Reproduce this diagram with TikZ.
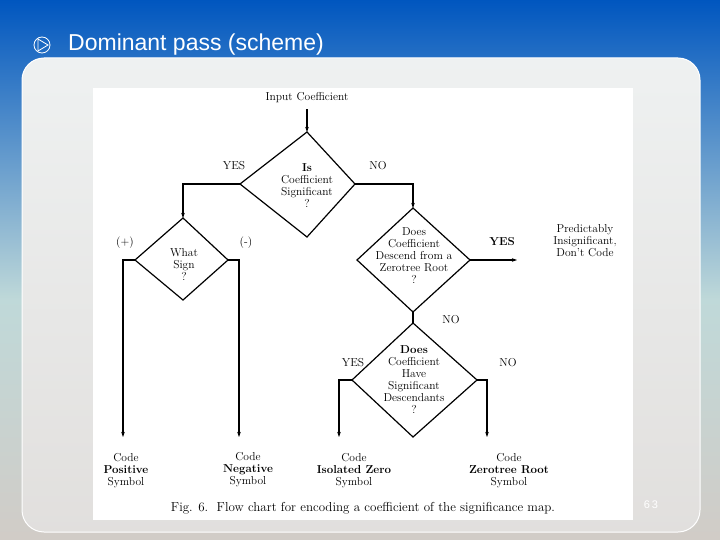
\documentclass[tikz,border=0pt]{standalone}
\usepackage{fontspec}
\newfontfamily\sansf{Liberation Sans}
\usetikzlibrary{arrows.meta}
\begin{document}
\begin{tikzpicture}[x=1pt,y=-1pt,
  ln/.style={line width=1.2pt,black},
  arr/.style={ln,-{Stealth[length=5pt,width=3.5pt]}},
  dia/.style={line width=1.2pt,black,fill=white},
  txt/.style={font=\fontsize{11.5}{12}\selectfont,align=center,inner sep=0pt},
  lab/.style={font=\fontsize{11.5}{12}\selectfont,inner sep=0pt}]
\useasboundingbox (0,0) rectangle (720,540);
% background
\shade[top color=blue!55!cyan!75!black,bottom color=cyan!25!gray!40] (0,0) rectangle (720,300);
\shade[top color=cyan!25!gray!40,bottom color=brown!20!gray!40] (0,300) rectangle (720,540);
\shade[rounded corners=22pt,top color=cyan!8!gray!12,bottom color=brown!12!gray!25,draw=white,line width=1pt] (22,58) rectangle (700,532);
\fill[white] (93,88) rectangle (633,520);
% title
\node[draw=white,circle,line width=0.8pt,minimum size=16pt,inner sep=0pt] (bul) at (42,45) {};
\draw[white,line width=0.8pt] (38,39) -- (48,45) -- (38,51) -- cycle;
\node[anchor=west,text=white,font=\sansf\fontsize{23}{26}\selectfont,inner sep=0pt] (title) at (68,45) {Dominant pass (scheme)};
\node[text=white,font=\sansf\fontsize{11}{12}\selectfont] (pg) at (651,505) {6\,3};
% diamonds
\coordinate (d1t) at (307,132); \coordinate (d1b) at (307,237); \coordinate (d1l) at (240,184); \coordinate (d1r) at (355,184);
\coordinate (d2t) at (183,218); \coordinate (d2b) at (183,300); \coordinate (d2l) at (135,260); \coordinate (d2r) at (228,260);
\coordinate (d3t) at (413,208); \coordinate (d3b) at (413,312); \coordinate (d3l) at (357,260); \coordinate (d3r) at (470,260);
\coordinate (d4t) at (413,323); \coordinate (d4b) at (413,437); \coordinate (d4l) at (352,380); \coordinate (d4r) at (477,380);
\draw[dia] (d1t)--(d1r)--(d1b)--(d1l)--cycle;
\draw[dia] (d2t)--(d2r)--(d2b)--(d2l)--cycle;
\draw[dia] (d3t)--(d3r)--(d3b)--(d3l)--cycle;
\draw[dia] (d4t)--(d4r)--(d4b)--(d4l)--cycle;
\node[txt] (q1) at (307,186) {\textbf{Is}\\Coefficient\\Significant\\?};
\node[txt] (q2) at (184,265) {What\\Sign\\?};
\node[txt] (q3) at (414,256) {Does\\Coefficient\\Descend from a\\Zerotree Root\\?};
\node[txt] (q4) at (414,380) {\textbf{Does}\\Coefficient\\Have\\Significant\\Descendants\\?};
% input
\node[lab] (in) at (307,98) {Input Coefficient};
\draw[arr] (in.south) ++(0,6) -- (d1t);
% connectors
\draw[arr] (d1l) -| (d2t);
\draw[arr] (d1r) -| (d3t);
\draw[ln] (d3b) -- (d4t);
\draw[arr] (d2l) -| (123,437);
\draw[arr] (d2r) -| (239,437);
\draw[arr] (d4l) -| (339,437);
\draw[arr] (d4r) -| (487,437);
\draw[arr] (d3r) -- (517,260);
% labels
\node[lab] (y1) at (234,166) {YES};
\node[lab] (n1) at (378,166) {NO};
\node[lab] (pl) at (125,243) {(+)};
\node[lab] (mi) at (246,243) {(-)};
\node[lab] (y3) at (502,242) {\textbf{YES}};
\node[lab] (n3) at (451,320) {NO};
\node[lab] (y4) at (353,363) {YES};
\node[lab] (n4) at (508,363) {NO};
\node[txt] (pi) at (585,241) {Predictably\\Insignificant,\\Don't Code};
\node[txt] (o1) at (126,471) {Code\\\textbf{Positive}\\Symbol};
\node[txt] (o2) at (248,470) {Code\\\textbf{Negative}\\Symbol};
\node[txt] (o3) at (354,471) {Code\\\textbf{Isolated Zero}\\Symbol};
\node[txt] (o4) at (509,471) {Code\\\textbf{Zerotree Root}\\Symbol};
\node[font=\fontsize{13}{14}\selectfont,inner sep=0pt] (cap) at (363,508) {Fig. 6.\ \ Flow chart for encoding a coefficient of the significance map.};
\end{tikzpicture}
\end{document}
